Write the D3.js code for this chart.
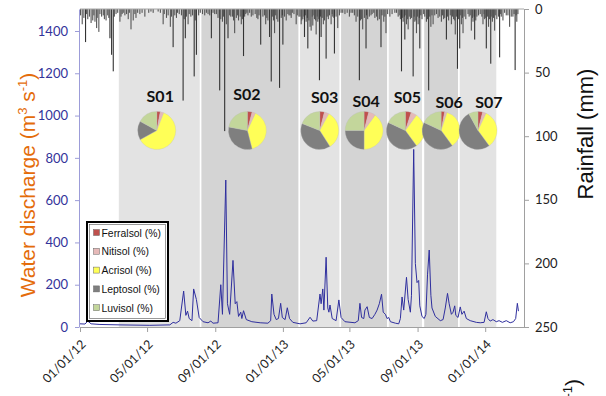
<!DOCTYPE html>
<html>
<head>
<meta charset="utf-8">
<script src="https://cdn.jsdelivr.net/npm/d3@7"></script>
<style>
  body { margin: 0; background: #fff; }
  svg { display: block; }
</style>
</head>
<body>
<svg id="chart" width="606" height="396"></svg>
<script>
// sub-catchment periods and soil composition
var sites = ["S01", "S02", "S03", "S04", "S05", "S06", "S07"];
var siteStart = ["2012-03-11", "2012-08-07", "2013-02-01", "2013-04-16", "2013-07-11", "2013-09-13", "2013-11-16"];
var siteEnd = ["2012-08-04", "2013-01-29", "2013-04-13", "2013-07-08", "2013-09-09", "2013-11-13", "2014-01-21"];
var soilTypes = ["Ferralsol (%)", "Nitisol (%)", "Acrisol (%)", "Leptosol (%)", "Luvisol (%)"];
var soilShares = [
    [3, 3, 61, 16, 17],
    [4, 3, 39, 32, 22],
    [4, 4, 33, 40, 19],
    [4, 6, 40, 25, 25],
    [5, 5, 30, 42, 18],
    [3, 2, 35, 42, 18],
    [4, 3, 33, 52, 8]
];

var dischargeTicks = [0, 200, 400, 600, 800, 1000, 1200, 1400];
var rainTicks = [0, 50, 100, 150, 200, 250];
var dateTicks = ["2012-01-01", "2012-05-01", "2012-09-01", "2013-01-01", "2013-05-01", "2013-09-01", "2014-01-01"];

// water discharge (m3/s)
var discharge = [
    ["2012-01-01",15],["2012-01-10",14],["2012-01-15",28],["2012-01-21",15],["2012-02-06",12],["2012-03-13",10],
    ["2012-05-06",8],["2012-06-11",10],["2012-06-17",22],["2012-06-22",18],["2012-06-29",30],["2012-07-06",170],
    ["2012-07-10",55],["2012-07-13",75],["2012-07-16",40],["2012-07-21",30],["2012-07-24",180],["2012-07-29",130],
    ["2012-08-03",45],["2012-08-10",25],["2012-08-19",20],["2012-08-24",28],["2012-08-28",18],["2012-09-06",20],
    ["2012-09-11",200],["2012-09-14",60],["2012-09-20",695],["2012-09-23",110],["2012-09-27",60],["2012-10-03",315],
    ["2012-10-07",110],["2012-10-10",120],["2012-10-13",50],["2012-10-17",70],["2012-10-19",40],["2012-10-22",77],
    ["2012-10-27",35],["2012-11-06",25],["2012-11-21",20],["2012-12-05",18],["2012-12-10",30],["2012-12-12",156],
    ["2012-12-16",60],["2012-12-20",35],["2012-12-24",40],["2012-12-28",112],["2012-12-31",45],["2013-01-05",35],
    ["2013-01-09",91],["2013-01-13",40],["2013-01-19",22],["2013-02-01",15],["2013-02-12",20],["2013-02-19",46],
    ["2013-02-24",28],["2013-03-03",30],["2013-03-09",156],["2013-03-11",110],["2013-03-14",180],["2013-03-16",80],
    ["2013-03-20",330],["2013-03-23",90],["2013-03-25",70],["2013-03-27",104],["2013-03-31",40],["2013-04-07",30],
    ["2013-04-12",128],["2013-04-16",45],["2013-04-23",25],["2013-05-11",20],["2013-05-17",30],["2013-05-20",112],
    ["2013-05-23",45],["2013-05-27",40],["2013-05-29",80],["2013-06-02",96],["2013-06-06",45],["2013-06-11",40],
    ["2013-06-16",60],["2013-06-20",80],["2013-06-24",110],["2013-06-28",155],["2013-07-01",70],["2013-07-05",60],
    ["2013-07-08",40],["2013-07-11",45],["2013-07-14",25],["2013-07-23",18],["2013-07-29",15],["2013-08-01",40],
    ["2013-08-04",142],["2013-08-07",80],["2013-08-12",235],["2013-08-15",130],["2013-08-19",70],["2013-08-21",150],
    ["2013-08-25",840],["2013-08-28",300],["2013-08-31",210],["2013-09-03",220],["2013-09-05",100],["2013-09-09",50],
    ["2013-09-13",40],["2013-09-16",60],["2013-09-19",250],["2013-09-22",364],["2013-09-25",150],["2013-09-27",90],
    ["2013-10-03",50],["2013-10-12",30],["2013-10-17",35],["2013-10-21",90],["2013-10-25",159],["2013-10-28",110],
    ["2013-11-01",60],["2013-11-04",70],["2013-11-07",100],["2013-11-09",55],["2013-11-13",45],["2013-11-17",95],
    ["2013-11-20",60],["2013-11-24",75],["2013-11-28",40],["2013-12-05",30],["2013-12-16",22],["2013-12-23",20],
    ["2013-12-30",22],["2014-01-03",72],["2014-01-06",40],["2014-01-10",28],["2014-01-15",35],["2014-01-21",25],
    ["2014-01-26",30],["2014-02-01",22],["2014-02-08",30],["2014-02-15",20],["2014-02-21",25],["2014-02-25",40],
    ["2014-02-28",112],["2014-03-02",75]
];

// daily rainfall (mm), larger events
var rainfall = [
    ["2012-01-05",12],["2012-01-11",26],["2012-01-15",8],["2012-01-21",11],["2012-01-28",10],["2012-01-31",15],
    ["2012-02-04",18],["2012-02-09",6],["2012-02-17",9],["2012-02-24",23],["2012-02-27",36],["2012-03-01",49],
    ["2012-03-06",4],["2012-03-13",10],["2012-03-17",4],["2012-03-22",5],["2012-03-28",8],["2012-04-02",16],
    ["2012-04-06",9],["2012-04-11",7],["2012-04-18",4],["2012-04-27",6],["2012-05-04",3],["2012-05-12",3],
    ["2012-05-21",2],["2012-05-30",12],["2012-06-05",7],["2012-06-08",5],["2012-06-12",14],["2012-06-17",30],
    ["2012-06-23",7],["2012-06-28",4],["2012-07-05",72],["2012-07-09",23],["2012-07-14",12],["2012-07-19",6],
    ["2012-07-25",53],["2012-07-29",36],["2012-08-02",5],["2012-08-13",5],["2012-08-19",4],["2012-08-25",23],
    ["2012-08-31",4],["2012-09-06",7],["2012-09-09",64],["2012-09-14",10],["2012-09-18",96],["2012-09-24",23],
    ["2012-09-29",6],["2012-10-06",19],["2012-10-09",7],["2012-10-13",9],["2012-10-18",12],["2012-10-22",37],
    ["2012-10-26",4],["2012-10-30",5],["2012-11-05",6],["2012-11-12",4],["2012-11-17",8],["2012-11-22",28],
    ["2012-11-26",6],["2012-12-01",12],["2012-12-08",22],["2012-12-11",57],["2012-12-17",19],["2012-12-21",8],
    ["2012-12-26",62],["2013-01-01",28],["2013-01-07",9],["2013-01-12",5],["2013-01-16",7],["2013-01-21",4],
    ["2013-01-25",12],["2013-01-30",6],["2013-02-03",12],["2013-02-06",8],["2013-02-09",22],["2013-02-12",10],
    ["2013-02-15",31],["2013-02-19",14],["2013-02-21",17],["2013-02-24",13],["2013-02-27",8],["2013-03-02",20],
    ["2013-03-05",10],["2013-03-08",56],["2013-03-11",22],["2013-03-15",12],["2013-03-20",39],["2013-03-24",8],
    ["2013-03-29",12],["2013-04-01",6],["2013-04-04",35],["2013-04-10",15],["2013-04-16",3],["2013-04-23",4],
    ["2013-05-01",6],["2013-05-07",3],["2013-05-13",10],["2013-05-19",56],["2013-05-23",8],["2013-05-25",16],
    ["2013-05-31",31],["2013-06-03",8],["2013-06-06",6],["2013-06-11",4],["2013-06-16",7],["2013-06-21",9],
    ["2013-06-27",30],["2013-07-02",10],["2013-07-06",19],["2013-07-13",6],["2013-07-17",4],["2013-07-22",3],
    ["2013-07-28",6],["2013-08-03",49],["2013-08-06",10],["2013-08-09",24],["2013-08-12",12],["2013-08-15",16],
    ["2013-08-19",8],["2013-08-24",53],["2013-08-27",10],["2013-08-30",19],["2013-09-02",12],["2013-09-05",31],
    ["2013-09-09",8],["2013-09-14",6],["2013-09-17",10],["2013-09-21",64],["2013-09-25",14],["2013-09-29",12],
    ["2013-10-02",5],["2013-10-08",7],["2013-10-14",10],["2013-10-18",8],["2013-10-23",24],["2013-10-27",9],
    ["2013-11-01",12],["2013-11-05",8],["2013-11-08",20],["2013-11-12",47],["2013-11-16",31],["2013-11-19",12],
    ["2013-11-22",19],["2013-11-27",8],["2013-12-03",6],["2013-12-07",17],["2013-12-10",10],["2013-12-13",24],
    ["2013-12-17",6],["2013-12-23",4],["2013-12-28",12],["2013-12-31",8],["2014-01-03",31],["2014-01-07",14],
    ["2014-01-11",43],["2014-01-14",10],["2014-01-18",17],["2014-01-22",8],["2014-01-27",38],["2014-01-30",6],
    ["2014-02-02",9],["2014-02-08",5],["2014-02-14",14],["2014-02-17",6],["2014-02-20",6],["2014-02-24",48],
    ["2014-02-27",10]
];

// daily rainfall (mm), small showers
var rainfallSmall = [
    ["2012-01-02",5],["2012-01-08",7],["2012-01-13",4],["2012-01-18",6],["2012-01-24",9],["2012-01-26",5],
    ["2012-02-01",7],["2012-02-06",4],["2012-02-12",5],["2012-02-14",8],["2012-02-20",5],["2012-02-22",7],
    ["2012-03-03",6],["2012-03-09",3],["2012-03-15",6],["2012-03-19",3],["2012-03-25",4],["2012-03-30",3],
    ["2012-04-09",4],["2012-04-14",3],["2012-04-22",3],["2012-05-08",2],["2012-05-25",3],["2012-06-01",4],
    ["2012-06-14",6],["2012-06-20",5],["2012-06-25",3],["2012-07-02",5],["2012-07-07",8],["2012-07-11",6],
    ["2012-07-16",4],["2012-07-22",5],["2012-07-27",9],["2012-08-05",3],["2012-08-09",4],["2012-08-16",3],
    ["2012-08-22",5],["2012-08-28",3],["2012-09-03",4],["2012-09-11",8],["2012-09-16",6],["2012-09-21",12],
    ["2012-09-27",5],["2012-10-02",6],["2012-10-04",9],["2012-10-11",5],["2012-10-16",6],["2012-10-20",8],
    ["2012-10-24",6],["2012-10-28",3],["2012-11-02",3],["2012-11-08",5],["2012-11-15",7],["2012-11-19",5],
    ["2012-11-29",5],["2012-12-03",7],["2012-12-05",9],["2012-12-13",6],["2012-12-15",9],["2012-12-19",5],
    ["2012-12-23",10],["2012-12-29",7],["2012-12-31",5],["2013-01-04",6],["2013-01-10",4],["2013-01-14",5],
    ["2013-01-18",3],["2013-01-27",5],["2013-02-01",6],["2013-02-04",9],["2013-02-08",6],["2013-02-11",5],
    ["2013-02-14",7],["2013-02-17",9],["2013-02-23",6],["2013-02-26",5],["2013-03-01",9],["2013-03-04",6],
    ["2013-03-07",8],["2013-03-10",6],["2013-03-13",7],["2013-03-17",9],["2013-03-22",6],["2013-03-26",5],
    ["2013-03-31",4],["2013-04-03",7],["2013-04-07",6],["2013-04-13",5],["2013-04-19",3],["2013-04-27",3],
    ["2013-05-04",3],["2013-05-10",5],["2013-05-16",6],["2013-05-21",9],["2013-05-28",7],["2013-06-01",5],
    ["2013-06-09",5],["2013-06-14",3],["2013-06-19",6],["2013-06-24",8],["2013-06-29",5],["2013-07-04",6],
    ["2013-07-09",4],["2013-07-25",3],["2013-07-31",5],["2013-08-01",8],["2013-08-05",7],["2013-08-08",6],
    ["2013-08-11",5],["2013-08-14",8],["2013-08-17",6],["2013-08-21",7],["2013-08-26",6],["2013-08-29",9],
    ["2013-09-01",6],["2013-09-04",7],["2013-09-07",5],["2013-09-12",4],["2013-09-19",8],["2013-09-23",6],
    ["2013-09-27",5],["2013-10-05",4],["2013-10-11",6],["2013-10-16",5],["2013-10-20",7],["2013-10-25",6],
    ["2013-10-30",5],["2013-11-03",6],["2013-11-07",9],["2013-11-10",6],["2013-11-14",8],["2013-11-18",5],
    ["2013-11-21",7],["2013-11-24",6],["2013-12-01",4],["2013-12-05",5],["2013-12-09",7],["2013-12-12",6],
    ["2013-12-15",9],["2013-12-20",5],["2013-12-26",6],["2013-12-30",4],["2014-01-01",7],["2014-01-05",6],
    ["2014-01-09",8],["2014-01-13",6],["2014-01-16",7],["2014-01-20",5],["2014-01-25",6],["2014-01-29",4],
    ["2014-02-05",3],["2014-02-11",5],["2014-02-22",4],["2014-02-26",5],["2014-03-01",4]
];

var soilColors = ["#c0504d", "#e6b9b8", "#ffff57", "#7f7f7f", "#c3d69b"];
var bandColors = ["#e3e3e3", "#d4d4d4"];
// label nudges relative to the band centre: [dx, baseline]
var labelPlace = [[1, 102], [-3, 100], [5, 103], [2, 107], [2, 103], [8, 108], [11, 108]];

var parse = d3.timeParse("%Y-%m-%d");
var svg = d3.select("#chart");
var plotL = 80, plotR = 524, plotT = 9, plotB = 327;

var x = d3.scaleTime()
    .domain([parse("2012-01-01"), parse("2014-03-12")])
    .range([plotL, plotR]);
var yQ = d3.scaleLinear().domain([0, 1504]).range([plotB, plotT]);
var yR = d3.scaleLinear().domain([0, 250]).range([plotT, plotB]);

// shaded periods
svg.append("g")
    .selectAll("rect")
    .data(sites)
    .enter()
    .append("rect")
    .attr("x", function(d, i) { return x(parse(siteStart[i])); })
    .attr("width", function(d, i) { return x(parse(siteEnd[i])) - x(parse(siteStart[i])); })
    .attr("y", plotT)
    .attr("height", plotB - plotT)
    .attr("fill", function(d, i) { return bandColors[i % 2]; });

// rainfall hanging from the top
svg.append("g")
    .selectAll("rect")
    .data(rainfallSmall.concat(rainfall))
    .enter()
    .append("rect")
    .attr("x", function(d) { return x(parse(d[0])) - 0.55; })
    .attr("width", 1.1)
    .attr("y", plotT)
    .attr("height", function(d) { return yR(d[1]) - plotT; })
    .attr("fill", function(d) { return d[1] > 20 ? "#333" : "#555"; });

svg.append("line")
    .attr("x1", plotL).attr("x2", plotR)
    .attr("y1", plotT).attr("y2", plotT)
    .attr("stroke", "#a6a6a6");

// discharge line
var line = d3.line()
    .x(function(d) { return x(parse(d[0])); })
    .y(function(d) { return yQ(d[1]); });

svg.append("path")
    .datum(discharge)
    .attr("d", line)
    .attr("fill", "none")
    .attr("stroke", "#2f2f9e")
    .attr("stroke-width", 1);

// axes
var axL = svg.append("g")
    .attr("transform", "translate(" + (plotL - 1) + ",0)")
    .call(d3.axisLeft(yQ).tickValues(dischargeTicks).tickFormat(d3.format("d"))
        .tickSize(4).tickSizeOuter(0).tickPadding(7));
axL.selectAll("path, line").attr("stroke", "#9c9cd8");
axL.selectAll("text").attr("fill", "#33339a").style("font", "13px Lato");

var axR = svg.append("g")
    .attr("transform", "translate(" + plotR + ",0)")
    .call(d3.axisRight(yR).tickValues(rainTicks).tickSize(5).tickSizeOuter(0).tickPadding(6));
axR.selectAll("path, line").attr("stroke", "#a0a0a0");
axR.selectAll("text").attr("fill", "#222").style("font", "13px Lato");

var axB = svg.append("g")
    .attr("transform", "translate(0," + plotB + ")")
    .call(d3.axisBottom(x).tickValues(dateTicks.map(parse)).tickSize(5).tickSizeOuter(0)
        .tickFormat(d3.timeFormat("%m/%d/%y")));
axB.selectAll("path, line").attr("stroke", "#a0a0a0");
axB.selectAll("text")
    .attr("fill", "#222")
    .style("font", "12.5px Lato")
    .attr("text-anchor", "end")
    .attr("dy", "0.35em")
    .attr("y", 0)
    .attr("transform", "translate(3,15) rotate(-45)");

// pies and labels
var pie = d3.pie().sort(null);
var arc = d3.arc().innerRadius(0).outerRadius(19);

sites.forEach(function(s, i) {
    var mid = (x(parse(siteStart[i])) + x(parse(siteEnd[i]))) / 2;
    var cx = i < 2 ? mid - 2.5 : mid;
    var g = svg.append("g").attr("transform", "translate(" + cx + ",130.5)");
    g.selectAll("path")
        .data(pie(soilShares[i]))
        .enter()
        .append("path")
        .attr("d", arc)
        .attr("fill", function(d, j) { return soilColors[j]; })
        .attr("stroke", "#bbb")
        .attr("stroke-width", 0.3);
    svg.append("text")
        .attr("x", mid + labelPlace[i][0])
        .attr("y", labelPlace[i][1])
        .attr("text-anchor", "middle")
        .style("font", "bold 16px Lato")
        .attr("fill", "#111")
        .text(s);
});

// legend
var leg = svg.append("g").attr("transform", "translate(87,222)");
leg.append("rect")
    .attr("width", 81).attr("height", 99)
    .attr("fill", "#fff").attr("stroke", "#000").attr("stroke-width", 2);
leg.append("rect")
    .attr("x", 2.5).attr("y", 2.5).attr("width", 76).attr("height", 94)
    .attr("fill", "none").attr("stroke", "#555").attr("stroke-width", 0.6);
soilTypes.forEach(function(t, i) {
    var row = leg.append("g").attr("transform", "translate(0," + (11 + i * 18.8) + ")");
    row.append("rect")
        .attr("x", 6.5).attr("y", -3.5).attr("width", 6).attr("height", 6)
        .attr("fill", soilColors[i]).attr("stroke", "#666").attr("stroke-width", 0.5);
    row.append("text")
        .attr("x", 14.5).attr("y", 3.5)
        .style("font", "10.4px 'Liberation Sans'")
        .attr("fill", "#111")
        .text(t);
});

// axis titles
var tl = svg.append("text")
    .attr("transform", "translate(35,185) rotate(-90)")
    .attr("text-anchor", "middle")
    .style("font", "21px 'Liberation Sans'")
    .attr("fill", "#e46c0a");
tl.append("tspan").text("Water discharge (m");
tl.append("tspan").attr("dy", -8).style("font-size", "13px").text("3");
tl.append("tspan").attr("dy", 8).text(" s");
tl.append("tspan").attr("dy", -8).style("font-size", "13px").text("-1");
tl.append("tspan").attr("dy", 8).text(")");

svg.append("text")
    .attr("transform", "translate(593,134) rotate(-90)")
    .attr("text-anchor", "middle")
    .style("font", "22px 'Liberation Sans'")
    .attr("fill", "#111")
    .text("Rainfall (mm)");

// stray clipped title bottom right
var tr = svg.append("text")
    .attr("transform", "translate(580,379) rotate(-90)")
    .attr("text-anchor", "end")
    .style("font", "21px 'Liberation Sans'")
    .attr("fill", "#111");
tr.append("tspan").text("(m");
tr.append("tspan").attr("dy", -8).style("font-size", "13px").text("3");
tr.append("tspan").attr("dy", 8).text(" s");
tr.append("tspan").attr("dy", -8).style("font-size", "13px").text("-1");
tr.append("tspan").attr("dy", 8).text(")");
</script>
</body>
</html>
